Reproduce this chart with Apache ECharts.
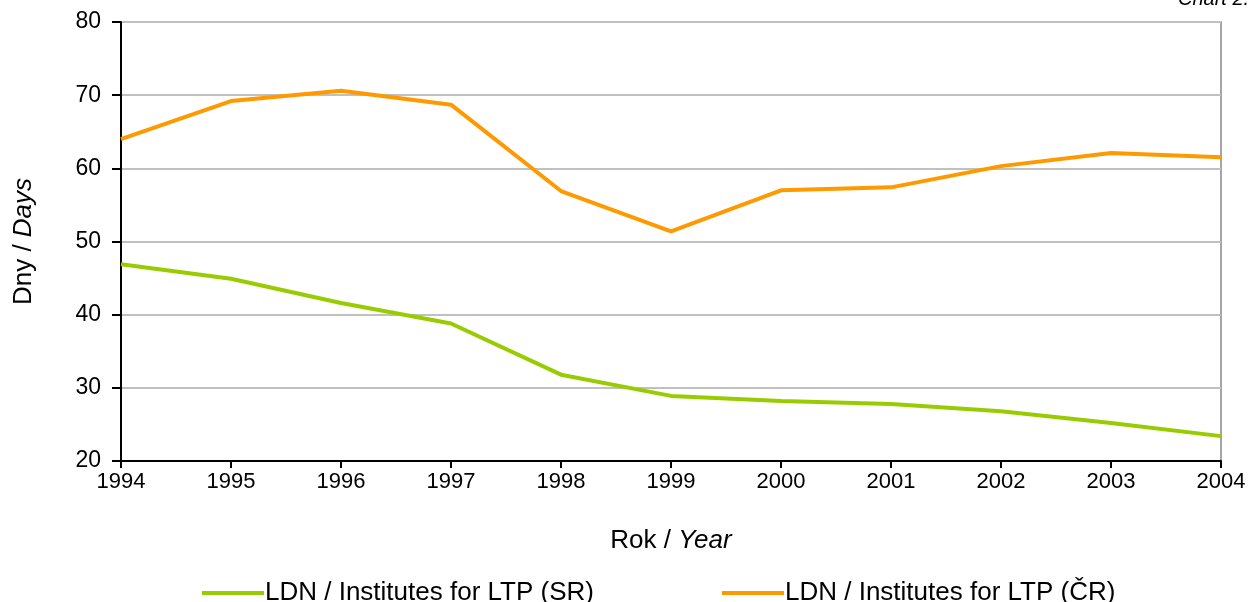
<!DOCTYPE html>
<html>
<head>
<meta charset="utf-8">
<script src="https://cdn.jsdelivr.net/npm/echarts@6/dist/echarts.min.js"></script>
<style>
  html, body { margin: 0; padding: 0; background: #fff; }
  #chart { width: 1252px; height: 602px; }
</style>
</head>
<body>
<div id="chart"></div>
<script>
  // data
  var years = ['1994', '1995', '1996', '1997', '1998', '1999', '2000', '2001', '2002', '2003', '2004']
  var ldnSR = [46.9, 44.9, 41.6, 38.8, 31.8, 28.9, 28.2, 27.8, 26.8, 25.2, 23.4]
  var ldnCR = [64.0, 69.2, 70.6, 68.7, 56.9, 51.4, 57.0, 57.4, 60.3, 62.1, 61.5]
  var seriesNames = ['LDN / Institutes for LTP (SR)', 'LDN / Institutes for LTP (ČR)']

  var font = '"Liberation Sans", Arial, sans-serif'
  var chart = echarts.init(document.getElementById('chart'))

  var legendBase = {
    top: 575,
    itemWidth: 62,
    itemHeight: 4,
    icon: 'rect',
    textStyle: { fontSize: 26, color: '#000', fontFamily: font, padding: [0, 0, 0, -4] }
  }

  chart.setOption({
    animation: false,
    textStyle: { fontFamily: font },
    graphic: [{
      type: 'text',
      left: 1178,
      top: -11,
      style: { text: 'Chart 2.', font: 'italic 20px ' + font, fill: '#000' }
    }],
    grid: {
      left: 121, right: 31, top: 22, bottom: 141,
      show: true, borderColor: '#888', borderWidth: 1.5
    },
    legend: [
      Object.assign({ left: 197, data: [seriesNames[0]] }, legendBase),
      Object.assign({ left: 717, data: [seriesNames[1]] }, legendBase)
    ],
    xAxis: {
      type: 'category',
      data: years,
      boundaryGap: false,
      name: 'Rok / {i|Year}',
      nameLocation: 'middle',
      nameGap: 67,
      nameTextStyle: {
        fontSize: 26, color: '#000', fontFamily: font,
        rich: { i: { fontStyle: 'italic', fontSize: 26, fontFamily: font } }
      },
      axisLine: { lineStyle: { color: '#000', width: 2 } },
      axisTick: { alignWithLabel: true, length: 7, lineStyle: { color: '#000', width: 2 } },
      axisLabel: { fontSize: 22, color: '#000', margin: 10 },
      splitLine: { show: false }
    },
    yAxis: {
      type: 'value',
      min: 20,
      max: 80,
      interval: 10,
      name: 'Dny / {i|Days}',
      nameLocation: 'middle',
      nameGap: 84,
      nameRotate: 90,
      nameTextStyle: {
        fontSize: 26, color: '#000', fontFamily: font,
        rich: { i: { fontStyle: 'italic', fontSize: 26, fontFamily: font } }
      },
      axisLine: { show: true, lineStyle: { color: '#000', width: 2 } },
      axisTick: { show: true, length: 9, lineStyle: { color: '#000', width: 2 } },
      axisLabel: { fontSize: 23, color: '#000', margin: 20 },
      splitLine: { lineStyle: { color: '#c0c0c0', width: 2 } }
    },
    series: [
      {
        name: seriesNames[0],
        type: 'line',
        data: ldnSR,
        symbol: 'none',
        color: '#99cc00',
        lineStyle: { width: 4, color: '#99cc00' }
      },
      {
        name: seriesNames[1],
        type: 'line',
        data: ldnCR,
        symbol: 'none',
        color: '#ff9900',
        lineStyle: { width: 4, color: '#ff9900' }
      }
    ]
  })
</script>
</body>
</html>
